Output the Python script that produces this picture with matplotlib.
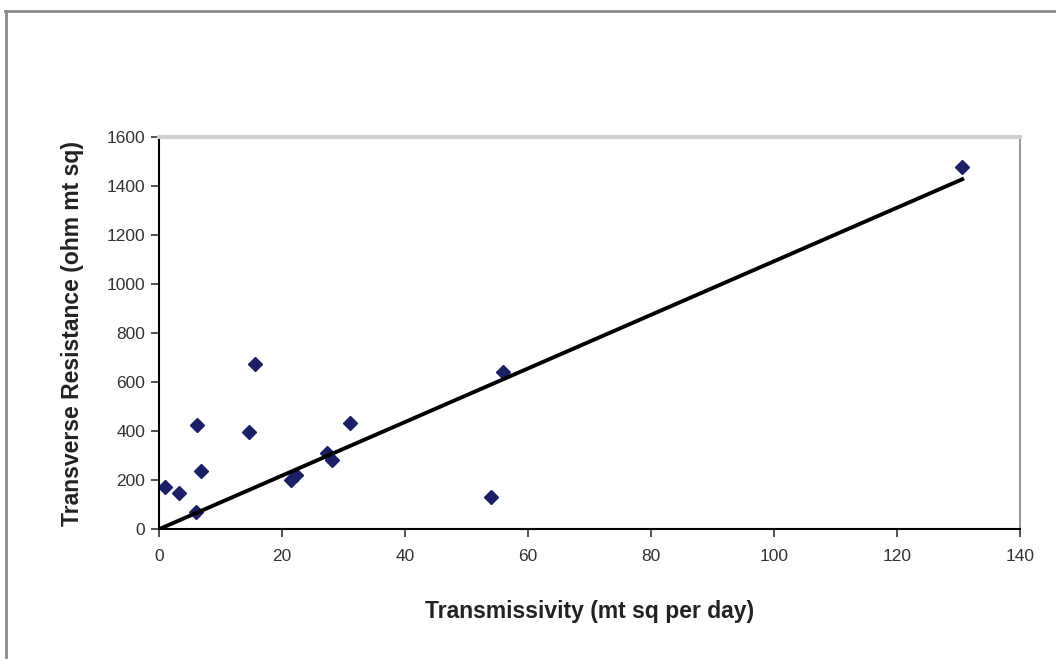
import numpy as np
import matplotlib
matplotlib.use("Agg")
import matplotlib.pyplot as plt
from matplotlib.lines import Line2D

# data
transmissivity = [1.0, 3.3, 6.2, 6.0, 6.8, 14.6, 15.6, 21.4, 22.3, 27.3, 28.1, 31.0, 53.9, 56.0, 130.6]
resistance     = [173, 146, 427, 70, 238, 397, 673, 200, 220, 309, 284, 435, 132, 640, 1478]
x_ticks = [0, 20, 40, 60, 80, 100, 120, 140]
y_ticks = [0, 200, 400, 600, 800, 1000, 1200, 1400, 1600]

x = np.array(transmissivity)
y = np.array(resistance)

# linear trend forced through the origin
slope = np.sum(x * y) / np.sum(x * x)
x_fit = np.array([0, x.max()])
y_fit = slope * x_fit

plt.rcParams["font.family"] = ["Liberation Sans", "DejaVu Sans"]

fig = plt.figure(figsize=(10.56, 6.59), dpi=100)
ax = fig.add_axes([0.1506, 0.197, 0.8154, 0.595])

ax.plot(x, y, linestyle="none", marker="D", ms=7.5, color="#1c1f66", zorder=2)
ax.plot(x_fit, y_fit, color="black", lw=2.8, zorder=3)

ax.set_xlim(0, 140)
ax.set_ylim(0, 1600)
ax.set_xticks(x_ticks)
ax.set_yticks(y_ticks)
ax.tick_params(axis="both", direction="out", length=6, width=1.2,
               labelsize=12.5, colors="#333333", pad=4)
ax.tick_params(axis="x", pad=8)

ax.set_xlabel("Transmissivity (mt sq per day)", fontsize=16.5, fontweight="bold",
              color="#222222", labelpad=26)
ax.set_ylabel("Transverse Resistance (ohm mt sq)", fontsize=16.5, fontweight="bold",
              color="#222222", labelpad=16)

for side in ["left", "bottom"]:
    ax.spines[side].set_color("black")
    ax.spines[side].set_linewidth(1.5)
ax.spines["top"].set_color("#d0d0d0")
ax.spines["top"].set_linewidth(3)
ax.spines["right"].set_color("#9a9a9a")
ax.spines["right"].set_linewidth(1.5)

# outer chart frame (only top and left visible)
fig.add_artist(Line2D([5 / 1056, 1.0], [1 - 11 / 659, 1 - 11 / 659],
                      transform=fig.transFigure, color="#8a8a8a", lw=2))
fig.add_artist(Line2D([6 / 1056, 6 / 1056], [0.0, 1 - 11 / 659],
                      transform=fig.transFigure, color="#8a8a8a", lw=2))

fig.savefig("out.png", dpi=100)
